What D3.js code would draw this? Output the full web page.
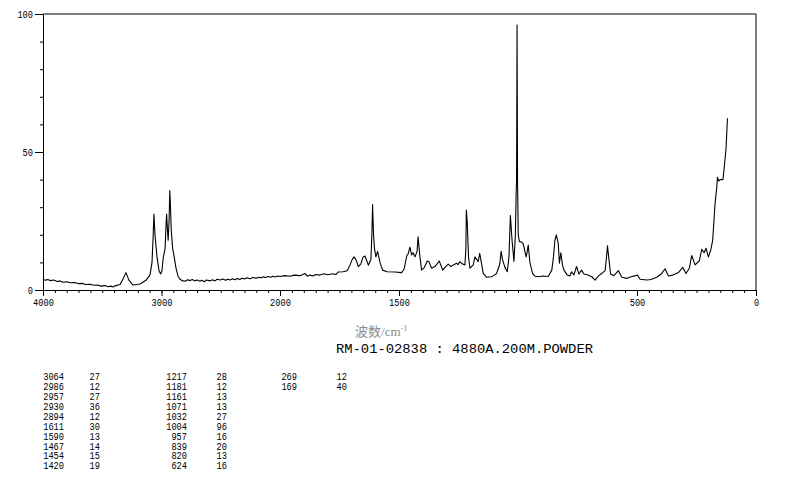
<!DOCTYPE html>
<html>
<head>
<meta charset="utf-8">
<script src="https://cdn.jsdelivr.net/npm/d3@7"></script>
<style>
  html, body { margin: 0; padding: 0; background: #fff; }
  svg { display: block; }
</style>
</head>
<body>
<svg id="chart" width="794" height="482"></svg>
<script>
// ---------- data ----------
const specWavenumber = [
  4000,3980,3960,3940,3910,3880,3857,3830,3800,3770,
  3730,3700,3670,3640,3603,3570,3540,3510,3477,3450,
  3430,3410,3392,3350,3325,3300,3274,3241,3210,3181,
  3131,3097,3080,3070,3064,3055,3038,3021,3007,2996,
  2986,2970,2963,2957,2950,2944,2936,2930,2924,2918,
  2906,2894,2878,2861,2845,2827,2800,2780,2759,2740,
  2720,2700,2675,2660,2640,2620,2591,2570,2550,2530,
  2506,2480,2460,2440,2422,2400,2380,2360,2338,2320,
  2300,2280,2253,2230,2194,2180,2160,2140,2127,2100,
  2080,2060,2042,2020,2000,1980,1958,1940,1916,1895,
  1885,1874,1860,1850,1832,1815,1800,1777,1765,1756,
  1735,1718,1706,1697,1689,1681,1671,1660,1651,1643,
  1635,1629,1618,1614,1611,1607,1603,1597,1590,1580,
  1569,1550,1517,1489,1479,1467,1462,1454,1447,1441,
  1433,1424,1420,1412,1405,1395,1381,1374,1363,1349,
  1331,1316,1307,1293,1282,1272,1258,1252,1244,1235,
  1223,1219,1217,1213,1208,1202,1188,1181,1167,1161,
  1154,1146,1132,1111,1101,1090,1080,1076,1071,1065,
  1055,1045,1038,1032,1025,1017,1011,1008,1006,1004,
  1002,999,994,987,978,966,961,957,950,939,
  929,915,894,873,858,851,845,839,831,826,
  820,813,807,793,782,775,765,754,744,733,
  723,709,690,676,662,648,634,628,624,619,
  611,597,578,564,543,525,498,487,459,441,
  417,396,382,368,349,326,308,294,280,270,
  256,238,228,218,210,200,190,182,176,172,
  165,162,157,151,139,134,126,120
];
const specIntensity = [
  3.9,3.5,3.8,3.4,3.6,3.1,3.3,2.8,3.0,2.6,
  2.7,2.3,2.4,2.0,2.1,1.7,1.8,1.4,1.6,1.2,
  1.4,1.1,1.5,2.0,4.0,6.3,3.5,1.8,2.0,2.2,
  3.5,5.5,10,20,27.5,20,12,7,5.8,7,
  11.5,15,22,27.5,22,18,25,36,30,22,
  15,12.3,8,5,4,3.4,3.2,3.7,3.4,3.8,
  3.3,3.6,3.2,3.5,3.0,3.6,3.3,3.7,3.3,3.9,
  3.6,4.0,3.5,3.9,3.6,4.1,3.7,4.2,3.8,4.3,
  4.0,4.4,4.1,4.5,4.3,4.6,4.4,4.8,4.5,4.9,
  4.6,5.0,4.7,5.1,4.9,5.2,5.0,5.4,5.2,6.0,
  5.0,5.4,5.1,5.6,5.4,5.9,5.5,5.9,5.6,6.5,
  6.6,7,9,11,12,11,8.5,9.5,12,12.3,
  10.5,9,11,20,31,20,15,12,14,10,
  7.2,6.6,6.5,6.3,7.5,12.5,13,15.5,12.7,13.5,
  12,14,19.3,12,7.2,8,10.5,10.2,7.9,8.5,
  10.5,7.2,8.2,9.4,8.5,9.1,9.7,9.2,10.3,9.5,
  9.1,15,29,24,12,7.9,9.1,12,10.3,13.3,
  10,6,4.6,4.8,5.3,6,8.5,9.7,14,11,
  8.2,6.6,12,27,18,10.3,20,34,40,96,
  40,20,17.5,17.5,16.7,12,14,16.3,10,6,
  5,4.8,5.1,4.9,7.2,12,18,20,16.9,9.7,
  13.5,9,7.2,5.4,5.1,6.6,5.5,8.5,5.8,7.2,
  5.8,5.5,4.8,3.6,5.1,6,7,12,16,12,
  5.8,5.2,7,4.6,4.2,4.8,5.4,3.9,3.6,3.8,
  4.6,6,7.7,5.1,5.4,6.3,8.2,6,7.9,12.5,
  9.1,10.6,14.7,13.5,15.1,12,14.5,18,26,31.4,
  37,40.8,39.5,40,40,44,51,62.2
];

const peakWavenumbers = [3064,2986,2957,2930,2894,1611,1590,1467,1454,1420,
                         1217,1181,1161,1071,1032,1004,957,839,820,624,
                         269,169];
const peakIntensities = [27,12,27,36,12,30,13,14,15,19,
                         28,12,13,13,27,96,16,20,13,16,
                         12,40];

const xTickLabels = [4000, 3000, 2000, 1500, 500, 0];
const yTickLabels = [0, 50, 100];
const sampleTitle = "RM-01-02838 : 4880A.200M.POWDER";

// ---------- layout ----------
const svg = d3.select("#chart");
const pLeft = 43, pRight = 756, pTop = 14, pBottom = 290;
const monoFont = "Liberation Mono";

const x = d3.scaleLinear().domain([4000, 2000, 0]).range([pLeft, 280, pRight]);
const y = d3.scaleLinear().domain([0, 100]).range([pBottom, pTop]);

function squeeze(sel, w) {
  sel.each(function() {
    const s = d3.select(this).text();
    d3.select(this).attr("textLength", s.length * w).attr("lengthAdjust", "spacingAndGlyphs");
  });
}

// frame (top + right)
svg.append("path")
  .attr("d", `M${pLeft},${pTop}H${pRight}V${pBottom}`)
  .attr("fill", "none").attr("stroke", "#000").attr("stroke-width", 1);

// x minor ticks
const xMinor = d3.range(4000, 2000, -100).concat(d3.range(2000, -1, -50));
svg.append("g").attr("transform", `translate(0,${pBottom})`)
  .call(d3.axisBottom(x).tickValues(xMinor).tickSize(3).tickSizeOuter(0).tickFormat(""));
// x major ticks + labels
const gx = svg.append("g").attr("transform", `translate(0,${pBottom})`)
  .call(d3.axisBottom(x).tickValues(xTickLabels).tickSize(6).tickPadding(2).tickFormat(d3.format("d")));
gx.select(".domain").remove();
gx.selectAll("text").attr("font-size", 11).attr("fill", "#000")
  .attr("font-family", monoFont).call(squeeze, 5.2);

// y minor ticks
svg.append("g").attr("transform", `translate(${pLeft},0)`)
  .call(d3.axisLeft(y).tickValues(d3.range(0, 101, 10)).tickSize(3).tickSizeOuter(0).tickFormat(""));
const gy = svg.append("g").attr("transform", `translate(${pLeft},0)`)
  .call(d3.axisLeft(y).tickValues(yTickLabels).tickSize(8).tickPadding(2).tickFormat(d3.format("d")));
gy.select(".domain").remove();
gy.selectAll("text").attr("font-size", 11).attr("fill", "#000")
  .attr("font-family", monoFont).call(squeeze, 5.2);

// spectrum line
const spec = specWavenumber.map((w, i) => [w, specIntensity[i]]);
svg.append("path")
  .datum(spec)
  .attr("fill", "none").attr("stroke", "#000").attr("stroke-width", 1.1)
  .attr("stroke-linejoin", "round")
  .attr("d", d3.line().x(d => x(d[0])).y(d => y(d[1])));

// axis title
const t = svg.append("text").attr("x", 355).attr("y", 336)
  .attr("fill", "#8a8a8a").attr("font-size", 13);
t.append("tspan").attr("font-family", "Noto Sans CJK SC").text("波数");
t.append("tspan").attr("font-family", "Liberation Serif").text("/cm");
t.append("tspan").attr("font-family", "Liberation Serif").attr("font-size", 8).attr("dy", -5).text("-1");

// sample title
svg.append("text").attr("x", 336).attr("y", 353)
  .attr("font-family", monoFont).attr("font-size", 12).attr("fill", "#000")
  .attr("textLength", 257).attr("lengthAdjust", "spacingAndGlyphs")
  .text(sampleTitle);

// peak table
const colNumRight = [64, 187, 297];
const colValRight = [100, 227, 347];
const rowY0 = 380, rowStep = 9.93;
const table = svg.append("g").attr("font-family", monoFont).attr("font-size", 10).attr("fill", "#000");
peakWavenumbers.forEach((w, i) => {
  const c = Math.floor(i / 10), r = i % 10;
  const yy = rowY0 + r * rowStep;
  table.append("text").attr("x", colNumRight[c]).attr("y", yy).attr("text-anchor", "end")
    .text(String(w)).call(squeeze, 5.2);
  table.append("text").attr("x", colValRight[c]).attr("y", yy).attr("text-anchor", "end")
    .text(String(peakIntensities[i])).call(squeeze, 5.2);
});
</script>
</body>
</html>
